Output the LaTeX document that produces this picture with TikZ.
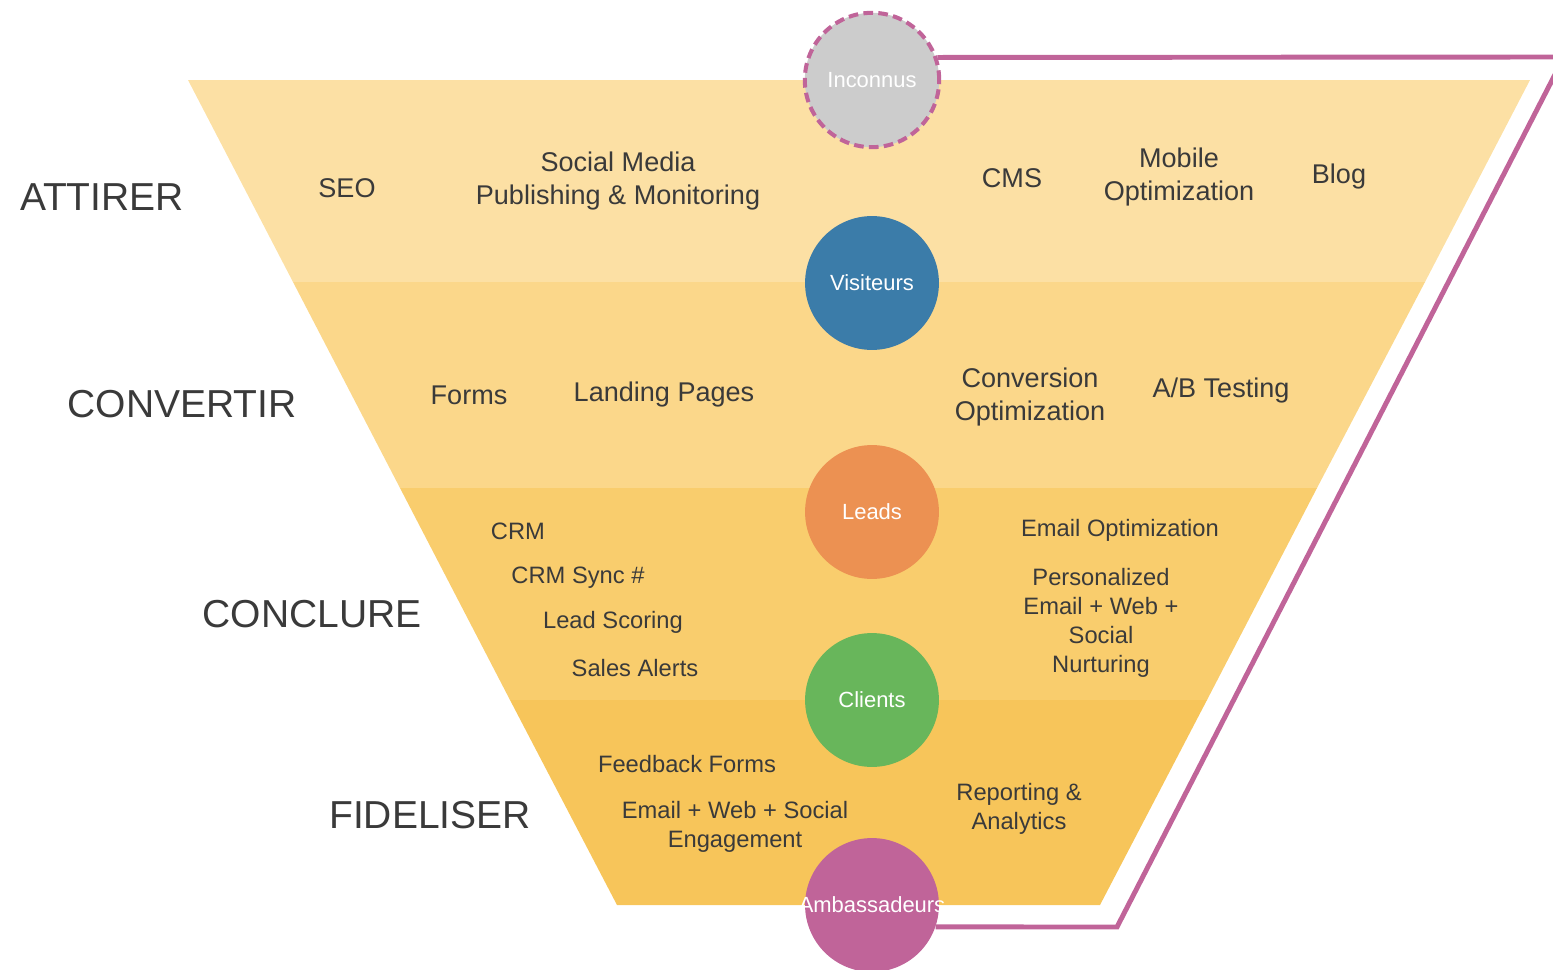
\documentclass[tikz,border=0pt]{standalone}
\usepackage{fontspec}
\setmainfont{Liberation Sans}
\usetikzlibrary{calc}

\definecolor{bandA}{HTML}{FCE0A4}
\definecolor{bandB}{HTML}{FBD78A}
\definecolor{bandC}{HTML}{F9CD6D}
\definecolor{bandD}{HTML}{F7C55A}
\definecolor{txt}{HTML}{3A3A3A}
\definecolor{plum}{HTML}{C06499}

\begin{document}
\begin{tikzpicture}[x=0.02cm,y=-0.02cm,
  stage/.style={font=\fontsize{22.2}{26}\selectfont,text=txt},
  tool/.style={font=\fontsize{15.4}{18.6}\selectfont,text=txt,align=center},
  smalltool/.style={font=\fontsize{13.5}{16.6}\selectfont,text=txt,align=center},
  dot/.style={circle,minimum size=76.2pt,inner sep=0pt,text=white,font=\fontsize{12.5}{15}\selectfont}]
\useasboundingbox (0,0) rectangle (1553,970);
% funnel bands
\fill[bandA] (188,80) -- (1530,80) -- (1425,282) -- (293,282) -- cycle;
\fill[bandB] (293,282) -- (1425,282) -- (1317,488) -- (400,488) -- cycle;
\fill[bandC] (400,488) -- (1317,488) -- (1207,700) -- (510,700) -- cycle;
\fill[bandD] (510,700) -- (1207,700) -- (1100,905) -- (617,905) -- cycle;
% stages
\node[stage] (attirer) at (102,197) {ATTIRER};
\node[stage] (convertir) at (182,404) {CONVERTIR};
\node[stage] (conclure) at (312,614) {CONCLURE};
\node[stage] (fideliser) at (430,815) {FIDELISER};
% tools
\node[tool] (seo) at (347,188) {SEO};
\node[tool] (social) at (618,181) {Social Media\\Publishing \& Monitoring};
\node[tool] (cms) at (1012,178) {CMS};
\node[tool] (mobile) at (1179,177) {Mobile\\Optimization};
\node[tool] (blog) at (1339,177) {Blog};
\node[tool] (forms) at (469,395) {Forms};
\node[tool] (landing) at (664,395) {Landing Pages};
\node[tool] (convopt) at (1030,397) {Conversion\\Optimization};
\node[tool] (abtest) at (1221,391) {A/B Testing};
\node[smalltool] (crm) at (518,531) {CRM};
\node[smalltool] (crmsync) at (578,578) {CRM Sync \#};
\node[smalltool] (scoring) at (613,622) {Lead Scoring};
\node[smalltool] (alerts) at (635,668) {Sales Alerts};
\node[smalltool] (emailopt) at (1120,530) {Email Optimization};
\node[smalltool] (nurture) at (1101,623) {Personalized\\Email + Web +\\Social\\Nurturing};
\node[smalltool] (feedback) at (687,764) {Feedback Forms};
\node[smalltool] (engage) at (735,827) {Email + Web + Social\\Engagement};
\node[smalltool] (report) at (1019,809) {Reporting \&\\Analytics};
% people
\node[dot,fill=black!20,draw=plum,dash pattern=on 5.5pt off 3pt,line width=2.3pt,minimum size=76.5pt] (inc) at (872,80) {Inconnus};
\node[dot,fill={rgb,255:red,59;green,124;blue,169}] (vis) at (872,283) {Visiteurs};
\node[dot,fill={rgb,255:red,236;green,145;blue,82}] (leads) at (872,512) {Leads};
\node[dot,fill={rgb,255:red,104;green,182;blue,91}] (clients) at (872,700) {Clients};
\node[dot,fill=plum] (amb) at (872,905) {\makebox[0pt]{Ambassadeurs}};
% loop back
\draw[plum,line width=2.8pt] (inc.19) -- (1564,57) -- (1117,927) -- (amb.-19);
\end{tikzpicture}
\end{document}
